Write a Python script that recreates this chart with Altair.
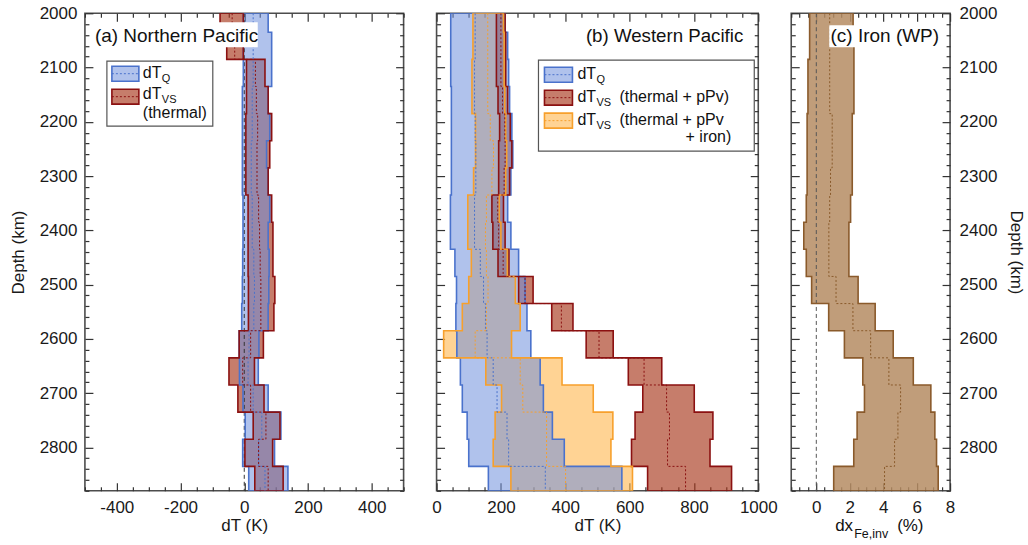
import altair as alt
import pandas as pd

FONT = "Liberation Sans"

# ---------------- data ----------------
depth_tops = [2000, 2035, 2085, 2135, 2185, 2235, 2285, 2335, 2385,
              2435, 2485, 2535, 2585, 2635, 2685, 2735, 2785, 2835]
depth_bottom = 2880

# (a) Northern Pacific
a_q_lo = [-3, -3, -3, -6, -6, -6, -6, -4, -4, -5, -6, -8, -16, -15, -4, 3, -5, 14]
a_q_hi = [75, 86, 86, 75, 80, 70, 75, 80, 75, 78, 77, 75, 46, 44, 75, 115, 95, 137]
a_q_mean = [28, 28, 28, 25, 25, 22, 22, 25, 25, 30, 32, 30, 15, 12, 28, 55, 45, 65]
a_vs_lo = [-76, -55, 7, 7, 5, 5, 5, 12, 12, 12, 13, 13, -16, -48, -20, 28, 2, 33]
a_vs_hi = [-3, -3, 65, 75, 86, 80, 75, 86, 90, 90, 96, 93, 60, 32, 62, 112, 89, 122]
a_vs_mean = [-38, -30, 35, 38, 42, 40, 40, 45, 48, 50, 52, 52, 20, -5, 20, 68, 45, 75]

# (b) Western Pacific
b_q_lo = [44, 44, 44, 46, 46, 46, 46, 43, 43, 57, 62, 60, 63, 74, 80, 95, 100, 161]
b_q_hi = [213, 221, 224, 227, 234, 237, 231, 221, 231, 255, 275, 281, 293, 322, 332, 360, 397, 576]
b_q_mean = [120, 120, 118, 118, 120, 122, 122, 118, 118, 136, 146, 152, 157, 176, 188, 219, 224, 338]
b_vs_lo = [186, 186, 186, 191, 196, 193, 193, 172, 175, 191, 255, 358, 465, 596, 641, 617, 606, 656]
b_vs_hi = [213, 215, 215, 221, 229, 234, 227, 208, 213, 225, 300, 424, 549, 700, 801, 859, 850, 917]
b_vs_mean = [200, 200, 200, 205, 212, 213, 210, 190, 193, 207, 275, 388, 505, 645, 715, 724, 718, 774]
b_fe_lo = [113, 113, 110, 110, 121, 121, 115, 97, 97, 108, 100, 80, 22, 153, 202, 182, 176, 231]
b_fe_hi = [208, 210, 210, 212, 215, 218, 215, 195, 200, 220, 245, 260, 233, 390, 487, 548, 542, 609]
b_fe_mean = [159, 159, 159, 159, 167, 177, 172, 155, 152, 155, 160, 155, 120, 260, 268, 342, 342, 401]

# (c) Iron (WP)
c_lo = [-0.4, -0.4, -0.5, -0.5, -0.55, -0.55, -0.55, -0.6, -0.75, -0.6,
        -0.28, 0.74, 1.68, 2.78, 2.88, 2.44, 2.24, 1.04]
c_hi = [2.2, 2.25, 2.25, 2.25, 2.15, 2.15, 2.15, 2.05, 1.95, 1.95,
        2.5, 3.52, 4.6, 5.8, 6.85, 7.09, 7.19, 7.29]
c_mean = [0.8, 0.8, 0.8, 0.8, 0.95, 0.95, 0.85, 0.8, 0.75, 0.75,
          1.18, 2.19, 3.25, 4.34, 5.04, 4.88, 4.68, 4.08]

x_ticks_a = list(range(-500, 501, 50))
x_ticks_b = list(range(0, 1001, 50))
x_ticks_c = [i / 2 for i in range(-3, 17)]
y_ticks = list(range(2000, 2881, 20))

# ---------------- styles ----------------
BLUE_FILL, BLUE_EDGE = "#6f8fdc", "#4a72cc"
RED_FILL, RED_EDGE = "#a8381c", "#8b1111"
ORG_FILL, ORG_EDGE = "#ffb54d", "#f7a02c"
FE_FILL, FE_EDGE = "#b58c63", "#8a5a2b"

W_A, W_B, W_C, H = 319, 322, 159, 478
YS = alt.Scale(domain=[2000, 2880], reverse=True, nice=False, zero=False)

AX = dict(grid=False, domain=False, tickColor="#333333", tickWidth=1.2,
          labelFontSize=17, labelColor="#1a1a1a", labelFont=FONT,
          titleFont=FONT, titleFontSize=17, titleFontWeight="normal",
          titleColor="#1a1a1a", labelFlush=False, labelOverlap=False, minExtent=0)


def tick_size(major):
    return alt.ExprRef(f"datum.value % {major} === 0 ? -8 : -4")


def lab_expr(major):
    return f"datum.value % {major} === 0 ? '' + datum.value : ''"


def band_df(lo, hi, mean):
    return pd.DataFrame({
        "depth": depth_tops + [depth_bottom],
        "lo": lo + [lo[-1]],
        "hi": hi + [hi[-1]],
        "mean": mean + [mean[-1]],
    })


def band_fill(df, xsc, fill, op):
    return alt.Chart(df).mark_area(
        orient="horizontal", interpolate="step-before", fill=fill,
        fillOpacity=op, strokeWidth=0, clip=True
    ).encode(x=alt.X("lo:Q", scale=xsc, axis=None), x2="hi:Q",
             y=alt.Y("depth:Q", scale=YS, axis=None))


def band_edge(df, xsc, stroke, sw=1.6):
    return alt.Chart(df).mark_area(
        orient="horizontal", interpolate="step-before", fill=stroke,
        fillOpacity=0, stroke=stroke, strokeWidth=sw, clip=True
    ).encode(x=alt.X("lo:Q", scale=xsc, axis=None), x2="hi:Q",
             y=alt.Y("depth:Q", scale=YS, axis=None))


def band_mean(df, xsc, stroke):
    return alt.Chart(df).mark_line(
        interpolate="step-before", stroke=stroke, strokeWidth=1,
        strokeDash=[2, 2], clip=True
    ).encode(x=alt.X("mean:Q", scale=xsc, axis=None),
             y=alt.Y("depth:Q", scale=YS, axis=None), order="depth:Q")


def axis_layers(xsc, xt, xmaj, xtitle, left_labels, right_labels):
    dummy = pd.DataFrame({"xv": [xt[0]], "yv": [2000]})
    bl = alt.Chart(dummy).mark_point(opacity=0).encode(
        x=alt.X("xv:Q", scale=xsc, axis=alt.Axis(
            orient="bottom", values=xt, labelExpr=lab_expr(xmaj),
            tickSize=tick_size(xmaj), labelPadding=17, title=xtitle,
            titlePadding=alt.ExprRef("-2"), **AX)),
        y=alt.Y("yv:Q", scale=YS, axis=alt.Axis(
            orient="left", values=y_ticks, labels=left_labels,
            labelExpr=lab_expr(100), tickSize=tick_size(100), labelPadding=16,
            title=("Depth (km)" if left_labels else None), titlePadding=12, **AX)),
    )
    tr = alt.Chart(dummy).mark_point(opacity=0).encode(
        x=alt.X("xv:Q", scale=xsc, axis=alt.Axis(
            orient="top", values=xt, labels=False, tickSize=tick_size(xmaj),
            title=None, **AX)),
        y=alt.Y("yv:Q", scale=YS, axis=alt.Axis(
            orient="right", values=y_ticks, labels=right_labels,
            labelExpr=lab_expr(100), tickSize=tick_size(100), labelPadding=17,
            title=("Depth (km)" if right_labels else None), titlePadding=10, **AX)),
    )
    return [bl, tr]


ONE = pd.DataFrame({"k": [0]})


def text(s, x, y, size=16, align="left", color="#111111"):
    return alt.Chart(pd.DataFrame({"label": [s]})).mark_text(
        align=align, baseline="middle", fontSize=size, font=FONT, color=color
    ).encode(x=alt.value(x), y=alt.value(y), text="label:N")


def rect(x, x2, y, y2, fill, op=1.0, stroke=None, sw=1.0):
    kw = dict(fill=fill, fillOpacity=op)
    if stroke:
        kw.update(stroke=stroke, strokeWidth=sw)
    return alt.Chart(ONE).mark_rect(**kw).encode(
        x=alt.value(x), x2=alt.value(x2), y=alt.value(y), y2=alt.value(y2))


def hline(x, x2, y, color):
    return alt.Chart(ONE).mark_rule(color=color, strokeDash=[2, 2], strokeWidth=1).encode(
        x=alt.value(x), x2=alt.value(x2), y=alt.value(y))


def swatch(x, x2, y, y2, fill, op, edge):
    return [rect(x, x2, y, y2, fill, op, edge, 1.6), hline(x, x2, (y + y2) / 2, edge)]


def zero_line(xsc, color="#333333"):
    return alt.Chart(pd.DataFrame({"z": [0]})).mark_rule(
        color=color, strokeDash=[4, 3], strokeWidth=1).encode(
        x=alt.X("z:Q", scale=xsc, axis=None))


# ---------------- panel (a) ----------------
xa = alt.Scale(domain=[-500, 500], nice=False, zero=False)
aq = band_df(a_q_lo, a_q_hi, a_q_mean)
av = band_df(a_vs_lo, a_vs_hi, a_vs_mean)
layers_a = axis_layers(xa, x_ticks_a, 200, "dT (K)", True, False) + [
    band_fill(av, xa, RED_FILL, 0.65),
    band_fill(aq, xa, BLUE_FILL, 0.55),
    zero_line(xa),
    band_edge(aq, xa, BLUE_EDGE), band_edge(av, xa, RED_EDGE),
    band_mean(aq, xa, BLUE_EDGE), band_mean(av, xa, RED_EDGE),
    rect(8, 173, 9, 34, "white"),
    text("(a) Northern Pacific", 10, 23, 19),
    rect(22, 128, 48, 113, "white", 1.0, "#555555", 1.2),
    *swatch(27, 54, 53, 68, BLUE_FILL, 0.55, BLUE_EDGE),
    text("dT", 58, 60), text("Q", 77, 66, 11),
    *swatch(27, 54, 76, 91, RED_FILL, 0.65, RED_EDGE),
    text("dT", 58, 81), text("VS", 77, 87, 11),
    text("(thermal)", 58, 100),
]
panel_a = alt.layer(*layers_a).resolve_axis(x="independent", y="independent").properties(
    width=W_A, height=H)

# ---------------- panel (b) ----------------
xb = alt.Scale(domain=[0, 1000], nice=False, zero=False)
bq = band_df(b_q_lo, b_q_hi, b_q_mean)
bv = band_df(b_vs_lo, b_vs_hi, b_vs_mean)
bf = band_df(b_fe_lo, b_fe_hi, b_fe_mean)
layers_b = axis_layers(xb, x_ticks_b, 200, "dT (K)", False, False) + [
    band_fill(bf, xb, ORG_FILL, 0.6),
    band_fill(bv, xb, RED_FILL, 0.65),
    band_fill(bq, xb, BLUE_FILL, 0.55),
    band_edge(bq, xb, BLUE_EDGE), band_edge(bv, xb, RED_EDGE), band_edge(bf, xb, ORG_EDGE),
    band_mean(bq, xb, BLUE_EDGE), band_mean(bv, xb, RED_EDGE), band_mean(bf, xb, ORG_EDGE),
    text("(b) Western Pacific", 307, 23, 18.7, align="right"),
    rect(102, 318, 47, 138, "white", 1.0, "#555555", 1.2),
    *swatch(108, 136, 54, 69, BLUE_FILL, 0.55, BLUE_EDGE),
    text("dT", 141, 61), text("Q", 160, 67, 11),
    *swatch(108, 136, 77, 92, RED_FILL, 0.65, RED_EDGE),
    text("dT", 141, 84), text("VS", 160, 90, 11), text("(thermal + pPv)", 183, 84),
    *swatch(108, 136, 100, 115, ORG_FILL, 0.6, ORG_EDGE),
    text("dT", 141, 107), text("VS", 160, 113, 11), text("(thermal + pPv", 183, 107),
    text("+ iron)", 295, 124, align="right"),
]
panel_b = alt.layer(*layers_b).resolve_axis(x="independent", y="independent").properties(
    width=W_B, height=H)

# ---------------- panel (c) ----------------
xc = alt.Scale(domain=[-1.5, 8], nice=False, zero=False)
cf = band_df(c_lo, c_hi, c_mean)
layers_c = axis_layers(xc, x_ticks_c, 2, None, False, True) + [
    band_fill(cf, xc, FE_FILL, 0.85),
    zero_line(xc, "#555555"),
    band_edge(cf, xc, FE_EDGE),
    band_mean(cf, xc, FE_EDGE),
    rect(38, 150, 12, 34, "white"),
    text("(c) Iron (WP)", 148, 23, 19, align="right"),
    text("dx", 44, 513, 17), text("Fe,inv", 63, 521, 12.5), text("(%)", 106, 513, 17),
]
panel_c = alt.layer(*layers_c).resolve_axis(x="independent", y="independent").properties(
    width=W_C, height=H)

chart = alt.hconcat(panel_a, panel_b, panel_c, spacing=33, bounds="flush").configure(
    font=FONT).configure_view(stroke="#4d4d4d", strokeWidth=1.6).properties(
    padding={"left": 8, "top": 3, "right": 2, "bottom": 5}, background="white")

chart.save("out.html", embed_options={"renderer": "svg", "actions": False})
